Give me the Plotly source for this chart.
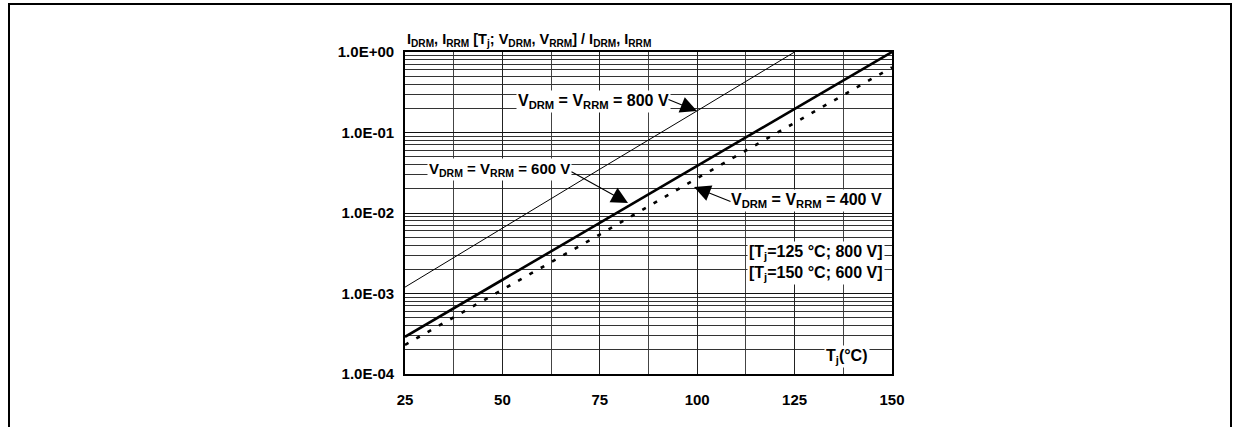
import plotly.graph_objects as go

# ---- data ----
temps_800 = [25, 50, 75, 100, 125]
i_800 = [1.2e-3, 6.5e-3, 0.035, 0.186, 1.0]

temps = [25, 50, 75, 100, 125, 150]
i_600 = [2.9e-4, 1.48e-3, 7.5e-3, 0.038, 0.196, 1.0]
i_400 = [2.3e-4, 1.12e-3, 5.4e-3, 0.027, 0.132, 0.645]

x_tick_vals = [25, 50, 75, 100, 125, 150]
y_tick_vals = [1e-4, 1e-3, 1e-2, 1e-1, 1e0]
y_tick_text = ["1.0E-04", "1.0E-03", "1.0E-02", "1.0E-01", "1.0E+00"]

FONT = "Liberation Sans"

fig = go.Figure()
fig.add_trace(go.Scatter(x=temps_800, y=i_800, mode="lines",
                         line=dict(color="black", width=1), showlegend=False))
fig.add_trace(go.Scatter(x=temps, y=i_600, mode="lines",
                         line=dict(color="black", width=2.6), showlegend=False))
fig.add_trace(go.Scatter(x=temps, y=i_400, mode="lines",
                         line=dict(color="black", width=2.6, dash="4px,9px"),
                         showlegend=False))

minor_y = [m * 10 ** e for e in range(-4, 0) for m in range(2, 10)]

fig.update_xaxes(
    range=[25, 150], tickvals=x_tick_vals,
    ticktext=["<b>%d</b>" % v for v in x_tick_vals],
    ticks="", ticklabelstandoff=11,
    tickfont=dict(family=FONT, size=15, color="black"),
    showgrid=True, gridcolor="#222", gridwidth=1,
    minor=dict(tickvals=[37.5, 62.5, 87.5, 112.5, 137.5], showgrid=True,
               gridcolor="#444", gridwidth=1),
    showline=True, linecolor="black", linewidth=1.8, mirror=True, zeroline=False,
)
fig.update_yaxes(
    type="log", range=[-4, 0], tickvals=y_tick_vals,
    ticktext=["<b>%s</b>" % t for t in y_tick_text],
    ticks="", ticklabelstandoff=6,
    tickfont=dict(family=FONT, size=15, color="black"),
    showgrid=True, gridcolor="#111", gridwidth=1,
    minor=dict(tickvals=minor_y, showgrid=True, gridcolor="#333", gridwidth=1),
    showline=True, linecolor="black", linewidth=1.8, mirror=True, zeroline=False,
)

ann_font = dict(family=FONT, size=16, color="black")

annotations = [
    # y-axis title
    dict(x=0, y=1.037, xref="paper", yref="paper", xanchor="left", yanchor="middle",
         text="<b>I<sub>DRM</sub>, I<sub>RRM</sub> [T<sub>j</sub>; V<sub>DRM</sub>, V<sub>RRM</sub>] / I<sub>DRM</sub>, I<sub>RRM</sub></b>",
         showarrow=False, font=dict(family=FONT, size=14.5, color="black")),
    # labels
    dict(x=(516 - 405) / 487, y=(374 - 101) / 322, xref="paper", yref="paper",
         xanchor="left", yanchor="middle",
         text="<b>V<sub>DRM</sub> = V<sub>RRM</sub> = 800 V</b>",
         showarrow=False, bgcolor="white", font=ann_font),
    dict(x=(427 - 405) / 487, y=(374 - 169) / 322, xref="paper", yref="paper",
         xanchor="left", yanchor="middle",
         text="<b>V<sub>DRM</sub> = V<sub>RRM</sub> = 600 V</b>",
         showarrow=False, bgcolor="white", font=dict(family=FONT, size=15, color="black")),
    dict(x=(884 - 405) / 487, y=(374 - 200) / 322, xref="paper", yref="paper",
         xanchor="right", yanchor="middle",
         text="<b>V<sub>DRM</sub> = V<sub>RRM</sub> = 400 V</b>",
         showarrow=False, bgcolor="white", font=ann_font),
    dict(x=(885 - 405) / 487, y=(374 - 263) / 322, xref="paper", yref="paper",
         xanchor="right", yanchor="middle", align="left",
         text="<b>[T<sub>j</sub>=125 °C; 800 V]<br>[T<sub>j</sub>=150 °C; 600 V]</b>",
         showarrow=False, bgcolor="white", font=ann_font),
    dict(x=(847 - 405) / 487, y=(374 - 356) / 322, xref="paper", yref="paper",
         xanchor="center", yanchor="middle",
         text="<b>T<sub>j</sub>(°C)</b>",
         showarrow=False, bgcolor="white", font=ann_font),
    # arrows
    dict(x=(697 - 405) / 487, y=(374 - 111) / 322, xref="paper", yref="paper",
         ax=-30, ay=-12, text="", showarrow=True, arrowhead=2, arrowsize=3,
         arrowwidth=1.1, arrowcolor="black"),
    dict(x=(628 - 405) / 487, y=(374 - 203) / 322, xref="paper", yref="paper",
         ax=-58, ay=-32, text="", showarrow=True, arrowhead=2, arrowsize=3,
         arrowwidth=1.1, arrowcolor="black"),
    dict(x=(694 - 405) / 487, y=(374 - 187) / 322, xref="paper", yref="paper",
         ax=38, ay=15, text="", showarrow=True, arrowhead=2, arrowsize=3,
         arrowwidth=1.1, arrowcolor="black"),
]

# outer page frame
shapes = [dict(type="rect", xref="paper", yref="paper",
               x0=(9 - 405) / 487, x1=(1231 - 405) / 487,
               y0=(374 - 450) / 322, y1=(374 - 4) / 322,
               line=dict(color="black", width=2), fillcolor="rgba(0,0,0,0)",
               layer="above")]

fig.update_layout(
    width=1235, height=427,
    margin=dict(l=405, r=343, t=52, b=53, autoexpand=False),
    paper_bgcolor="white", plot_bgcolor="white",
    annotations=annotations, shapes=shapes,
    font=dict(family=FONT, color="black"),
)

fig.write_html("out.html")
